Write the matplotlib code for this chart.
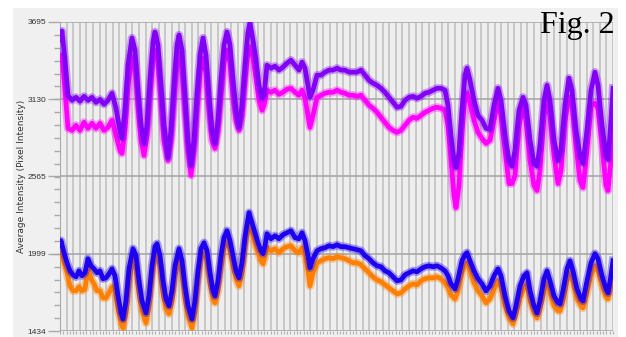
#!/usr/bin/env python

import numpy as np
import matplotlib.pyplot as plt
from matplotlib.patches import Rectangle

# frame numbers for the upper pair of traces
frames_top = [0, 2, 5, 8, 12, 16, 20, 24, 28, 32, 36, 40, 44, 48, 52, 56, 60, 62,
              65, 68, 72, 75, 78, 81, 84, 87, 90, 93, 95, 98, 101, 104, 108, 111,
              114, 117, 119, 122, 125, 128, 131, 134, 137, 140, 143, 146, 149, 152,
              155, 158, 161, 164, 167, 170, 173, 176, 179, 182, 185, 188, 190, 193,
              196, 199, 202, 204, 207, 211, 215, 219, 223, 227, 231, 235, 239, 242,
              245, 248, 250, 253, 257, 261, 265, 269, 273, 277, 281, 285, 289, 293,
              297, 301, 305, 309, 313, 317, 321, 325, 329, 333, 337, 341, 345, 349,
              353, 357, 361, 365, 369, 373, 377, 381, 385, 388, 391, 394, 396, 399,
              402, 405, 407, 410, 414, 418, 422, 426, 430, 434, 438, 441, 445, 449,
              452, 455, 459, 463, 466, 470, 474, 477, 480, 484, 487, 490, 494, 498,
              501, 505, 509, 512, 516, 520, 523, 527, 531, 535, 538, 542, 546, 548,
              551, 553]

purple = [3563, 3629, 3416, 3159, 3122, 3144, 3115, 3151, 3122, 3144, 3107, 3129,
          3093, 3122, 3174, 3064, 2902, 2843, 3049, 3379, 3578, 3489, 3196, 2939,
          2807, 2939, 3269, 3548, 3622, 3526, 3232, 2939, 2704, 2902, 3232, 3526,
          3600, 3489, 3159, 2829, 2645, 2829, 3159, 3452, 3578, 3452, 3159, 2902,
          2807, 2976, 3269, 3526, 3622, 3526, 3269, 3049, 2924, 3086, 3379, 3622,
          3688, 3563, 3416, 3232, 3137, 3159, 3379, 3357, 3372, 3343, 3365, 3394,
          3416, 3379, 3343, 3401, 3357, 3232, 3144, 3196, 3306, 3306, 3328, 3343,
          3343, 3357, 3343, 3343, 3328, 3328, 3328, 3343, 3306, 3269, 3247, 3232,
          3210, 3181, 3144, 3107, 3071, 3078, 3122, 3144, 3151, 3137, 3151, 3174,
          3181, 3196, 3210, 3210, 3196, 3086, 2860, 2680, 2630, 2740, 3049, 3306,
          3357, 3269, 3122, 3012, 2976, 2917, 2910, 3086, 3210, 3122, 2865, 2682,
          2640, 2755, 3049, 3144, 3086, 2829, 2660, 2640, 2792, 3122, 3232, 3122,
          2829, 2682, 2755, 3086, 3284, 3196, 2902, 2719, 2660, 2902, 3196, 3328,
          3232, 2939, 2719, 2690, 2976, 3210]

magenta = [3416, 3452, 3196, 2917, 2902, 2939, 2902, 2961, 2917, 2954, 2917, 2954,
           2902, 2924, 2976, 2865, 2755, 2733, 2902, 3232, 3438, 3379, 3086, 2829,
           2719, 2865, 3159, 3431, 3489, 3401, 3122, 2829, 2682, 2829, 3122, 3401,
           3467, 3350, 3049, 2755, 2572, 2755, 3049, 3328, 3431, 3328, 3049, 2829,
           2770, 2902, 3159, 3401, 3489, 3401, 3159, 2976, 2902, 3012, 3269, 3474,
           3511, 3431, 3284, 3122, 3049, 3086, 3196, 3181, 3196, 3166, 3181, 3203,
           3210, 3181, 3159, 3196, 3137, 3012, 2924, 3012, 3144, 3159, 3174, 3181,
           3181, 3196, 3181, 3174, 3159, 3159, 3151, 3159, 3122, 3086, 3064, 3034,
           2998, 2961, 2924, 2902, 2888, 2902, 2939, 2976, 2998, 2990, 3012, 3034,
           3049, 3064, 3071, 3064, 3049, 2939, 2682, 2425, 2337, 2498, 2902, 3159,
           3174, 3100, 2976, 2888, 2843, 2807, 2829, 2976, 3122, 3012, 2755, 2513,
           2513, 2572, 2939, 3071, 2976, 2682, 2498, 2462, 2608, 3012, 3122, 3012,
           2719, 2513, 2608, 2976, 3144, 3100, 2792, 2535, 2484, 2755, 3086, 3100,
           3060, 2792, 2498, 2462, 2682, 2960]

# frame numbers for the lower pair of traces
frames_bottom = [0, 1, 4, 7, 10, 13, 16, 19, 22, 25, 28, 31, 34, 37, 40, 43, 46, 49,
                 52, 55, 58, 61, 63, 66, 69, 73, 76, 79, 82, 86, 89, 92, 95, 97, 100,
                 103, 106, 109, 112, 115, 119, 122, 125, 128, 132, 135, 138, 141, 144,
                 147, 150, 153, 155, 158, 161, 164, 167, 170, 173, 176, 179, 182, 185,
                 189, 192, 195, 198, 201, 203, 205, 207, 211, 215, 219, 223, 227, 231,
                 235, 239, 242, 245, 248, 250, 253, 257, 261, 265, 269, 273, 277, 281,
                 285, 289, 293, 297, 301, 305, 309, 313, 317, 321, 325, 329, 333, 337,
                 341, 345, 349, 353, 357, 361, 365, 369, 373, 377, 381, 385, 388, 391,
                 395, 398, 402, 405, 407, 410, 414, 418, 422, 426, 430, 434, 438, 441,
                 445, 449, 453, 456, 460, 464, 467, 470, 474, 477, 480, 484, 487, 490,
                 494, 498, 500, 503, 507, 510, 513, 517, 521, 523, 527, 531, 535, 538,
                 542, 546, 548, 551, 553]

blue = [2058, 2095, 2007, 1933, 1874, 1845, 1830, 1874, 1838, 1860, 1963, 1911, 1889,
        1860, 1874, 1816, 1823, 1852, 1889, 1838, 1691, 1566, 1522, 1654, 1889, 2036,
        1985, 1801, 1654, 1566, 1691, 1911, 2051, 2073, 1985, 1801, 1669, 1618, 1728,
        1911, 2036, 1948, 1764, 1618, 1522, 1654, 1874, 2036, 2080, 2021, 1860, 1728,
        1691, 1801, 1985, 2117, 2168, 2095, 1985, 1874, 1823, 1933, 2124, 2300, 2226,
        2153, 2080, 2021, 2000, 2058, 2146, 2109, 2131, 2109, 2139, 2153, 2168, 2117,
        2109, 2153, 2095, 1985, 1896, 1963, 2021, 2036, 2043, 2058, 2051, 2065, 2051,
        2051, 2043, 2036, 2029, 2021, 1985, 1963, 1933, 1911, 1904, 1874, 1860, 1830,
        1801, 1808, 1845, 1860, 1874, 1867, 1889, 1904, 1911, 1904, 1911, 1896, 1874,
        1838, 1779, 1742, 1816, 1948, 1992, 2007, 1948, 1874, 1816, 1779, 1728, 1764,
        1838, 1889, 1838, 1691, 1581, 1530, 1618, 1764, 1838, 1860, 1728, 1618, 1566,
        1654, 1816, 1874, 1801, 1691, 1640, 1632, 1728, 1889, 1948, 1874, 1742, 1669,
        1654, 1801, 1933, 2000, 1963, 1838, 1742, 1713, 1838, 1948]

orange = [1985, 2007, 1933, 1860, 1764, 1728, 1728, 1757, 1728, 1742, 1896, 1816,
          1779, 1728, 1728, 1676, 1676, 1713, 1757, 1728, 1596, 1493, 1456, 1566, 1801,
          1970, 1911, 1713, 1581, 1493, 1618, 1838, 1985, 2007, 1911, 1713, 1596, 1559,
          1654, 1838, 1970, 1874, 1676, 1544, 1456, 1581, 1801, 1970, 2007, 1948, 1787,
          1669, 1640, 1728, 1911, 2043, 2095, 2021, 1911, 1816, 1764, 1860, 2058, 2219,
          2153, 2073, 2007, 1948, 1926, 1977, 2043, 2021, 2036, 2007, 2036, 2051, 2058,
          2021, 2007, 2043, 1985, 1874, 1764, 1860, 1933, 1948, 1963, 1970, 1963, 1977,
          1970, 1963, 1948, 1933, 1933, 1919, 1889, 1860, 1830, 1808, 1794, 1772, 1750,
          1728, 1706, 1713, 1742, 1764, 1779, 1772, 1801, 1816, 1823, 1823, 1830, 1816,
          1787, 1750, 1698, 1669, 1728, 1860, 1919, 1933, 1874, 1787, 1728, 1691, 1640,
          1669, 1742, 1801, 1750, 1618, 1530, 1486, 1559, 1676, 1750, 1779, 1654, 1566,
          1530, 1596, 1728, 1787, 1713, 1618, 1581, 1581, 1654, 1801, 1860, 1787, 1669,
          1618, 1603, 1713, 1838, 1911, 1874, 1764, 1684, 1669, 1764, 1860]

y_ticks = [1434, 1999, 2565, 3130, 3695]
y_label = "Average Intensity (Pixel Intensity)"


def band(ax, x, y, color):
    # wide faint line for the noise, solid core on top
    ax.plot(x, y, color=color, lw=6.0, alpha=0.35, solid_joinstyle='round', zorder=3)
    ax.plot(x, y, color=color, lw=3.4, solid_joinstyle='round', zorder=3)


def main():
    fig = plt.figure(figsize=(6.26, 3.37), dpi=100, facecolor='white')
    # light grey panel behind the chart
    fig.patches.append(Rectangle((13 / 626, 0), 605 / 626, 329 / 337,
                                 transform=fig.transFigure, facecolor='#f0f0f0',
                                 edgecolor='none', zorder=-5))

    ax = fig.add_axes([60 / 626, 6 / 337, 553 / 626, 309 / 337])
    ax.set_facecolor('#eeeeee')
    ax.set_zorder(2)

    band(ax, frames_top, magenta, '#ff00ff')
    band(ax, frames_top, purple, '#8200f5')
    band(ax, frames_bottom, orange, '#ff7f00')
    band(ax, frames_bottom, blue, '#1e00f0')

    ax.set_xlim(0, 553)
    ax.set_ylim(1434, 3695)

    # vertical grid
    for gx in np.linspace(0, 553, 85):
        ax.axvline(gx, color='#c4c4c4', lw=1.3, zorder=1)
    for gy in y_ticks:
        ax.axhline(gy, color='#a9a9a9', lw=1.2, zorder=2)

    ax.set_yticks(y_ticks)
    ax.set_yticklabels([str(v) for v in y_ticks], fontsize=6, color='#333333',
                       fontfamily='Liberation Sans', fontstretch='condensed')
    ax.set_yticks(np.linspace(1434, 3695, 25), minor=True)
    ax.tick_params(axis='y', which='major', length=9, width=1.0, color='#a9a9a9', pad=1)
    ax.tick_params(axis='y', which='minor', length=4, width=1.0, color='#a9a9a9')

    ax.set_xticks(np.linspace(0, 553, 85))
    ax.set_xticklabels([])
    ax.set_xticks(np.linspace(0, 553, 169), minor=True)
    ax.tick_params(axis='x', which='both', length=2, width=0.8, color='#b0b0b0')

    for side in ['top', 'right', 'bottom']:
        ax.spines[side].set_visible(False)
    ax.spines['left'].set_color('#a9a9a9')

    ax.set_ylabel(y_label, fontsize=6.5, color='#333333', labelpad=1)

    fig.text(615 / 626, 1 - 33 / 337, "Fig. 2", fontsize=23, family='Liberation Serif',
             ha='right', va='baseline', color='black', zorder=5)

    fig.savefig("out.png", dpi=100, facecolor='white')


if __name__ == "__main__":
    main()
